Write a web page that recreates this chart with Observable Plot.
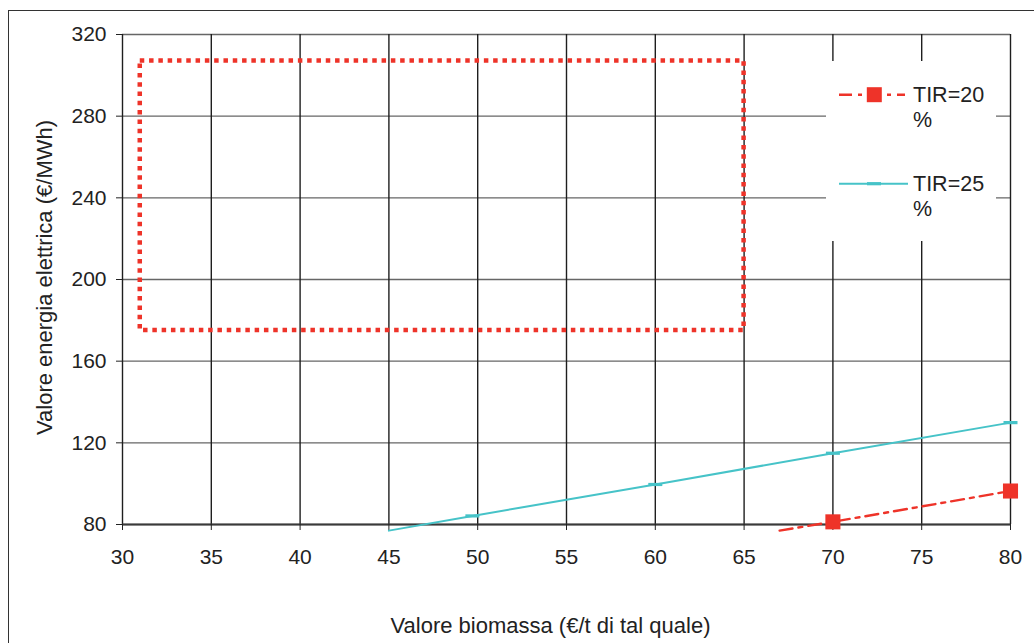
<!DOCTYPE html>
<html>
<head>
<meta charset="utf-8">
<script src="https://cdn.jsdelivr.net/npm/d3@7"></script>
<script src="https://cdn.jsdelivr.net/npm/@observablehq/plot@0.6"></script>
<style>
  body { margin: 0; background: #fff; font-family: "Liberation Sans", Arial, sans-serif; }
  #wrap { position: relative; width: 1034px; height: 643px; overflow: hidden; background: #fff; }
  #frame { position: absolute; left: 8px; top: 10px; width: 1100px; height: 700px;
           border-left: 1.5px solid #333; border-top: 1.5px solid #333; pointer-events: none; }
  #legend { position: absolute; left: 826px; top: 61px; }
  #chart { position: absolute; left: 0; top: 0; }
</style>
</head>
<body>
<div id="wrap">
  <div id="chart"></div>
  <div id="legend"></div>
  <div id="frame"></div>
</div>
<script>
// ---- data ----
const xTicks = [30, 35, 40, 45, 50, 55, 60, 65, 70, 75, 80];
const yTicks = [80, 120, 160, 200, 240, 280, 320];
const tir20X = [67, 70, 80];
const tir20Y = [77, 81.3, 96.4];
const tir25X = [45, 49.7, 60, 70, 80];
const tir25Y = [77, 84.2, 99.6, 114.9, 129.9];
const boxX = [31, 65];
const boxY = [175, 307];
const seriesNames = ["TIR=20", "TIR=25"];
const seriesSuffix = "%";
const xLabel = "Valore biomassa (€/t di tal quale)";
const yLabel = "Valore energia elettrica (€/MWh)";

// ---- styles ----
const RED = "#ee3329";
const CYAN = "#46c3c8";
const FONT = "Liberation Sans, Arial, sans-serif";

const pts20 = tir20X.map((x, i) => ({x, y: tir20Y[i]}));
const pts25 = tir25X.map((x, i) => ({x, y: tir25Y[i]}));
const box = [{x1: boxX[0], x2: boxX[1], y1: boxY[0], y2: boxY[1]}];

const dashSymbol = {
  draw(ctx) {
    ctx.moveTo(-7, -1.6); ctx.lineTo(7, -1.6); ctx.lineTo(7, 1.6); ctx.lineTo(-7, 1.6); ctx.closePath();
  }
};

const chart = Plot.plot({
  width: 1034,
  height: 643,
  marginLeft: 122,
  marginRight: 24,
  marginTop: 34,
  marginBottom: 119,
  style: {fontFamily: FONT, background: "transparent", color: "#222", overflow: "visible"},
  x: {domain: [30, 80]},
  y: {domain: [80, 320]},
  marks: [
    Plot.ruleY(yTicks, {stroke: "#666", strokeWidth: 1.4}),
    Plot.ruleX(xTicks, {stroke: "#1e1e1e", strokeWidth: 1.4}),
    Plot.ruleY([80], {stroke: "#3a3a3a", strokeWidth: 2}),
    Plot.axisX({ticks: xTicks, tickSize: 6, tickPadding: 19, fontSize: 21, label: null, stroke: "#222"}),
    Plot.axisY({ticks: yTicks, tickSize: 6, tickPadding: 10, fontSize: 21, label: null, stroke: "#222"}),
    Plot.rect(box, {x1: "x1", x2: "x2", y1: "y1", y2: "y2", fill: "none", stroke: RED,
                    strokeWidth: 4.5, strokeDasharray: "4.5,4.8"}),
    Plot.line(pts25, {x: "x", y: "y", stroke: CYAN, strokeWidth: 2}),
    Plot.dot(pts25.filter(d => d.y >= 80), {x: "x", y: "y", symbol: dashSymbol, fill: CYAN, stroke: "none"}),
    Plot.line(pts20, {x: "x", y: "y", stroke: RED, strokeWidth: 2.4, strokeDasharray: "13,6,4,6"}),
    Plot.dot(pts20.filter(d => d.y >= 80), {x: "x", y: "y", symbol: "square", r: 8.5, fill: RED, stroke: "none"}),
    Plot.text([xLabel], {text: d => d, frameAnchor: "bottom", textAnchor: "middle", lineAnchor: "bottom",
                         dx: -16, dy: 108, fontSize: 22, fill: "#222"}),
    Plot.text([yLabel], {text: d => d, frameAnchor: "left", textAnchor: "middle", lineAnchor: "middle",
                         rotate: -90, dx: -78, dy: -2, fontSize: 22, fill: "#222"})
  ]
});
document.getElementById("chart").appendChild(chart);

// ---- legend ----
const lg = d3.select("#legend").append("svg")
  .attr("width", 170).attr("height", 180)
  .style("font-family", FONT).style("display", "block");
lg.append("rect").attr("width", 170).attr("height", 180).attr("fill", "#fff");
const items = [
  {name: seriesNames[0], color: RED, dash: "13,6,4,6", lw: 2.4, ly: 33.7, ty: 41},
  {name: seriesNames[1], color: CYAN, dash: null, lw: 2, ly: 122.7, ty: 130}
];
items.forEach((it, i) => {
  const g = lg.append("g");
  g.append("line").attr("x1", 13).attr("x2", i === 0 ? 79 : 82).attr("y1", it.ly).attr("y2", it.ly)
    .attr("stroke", it.color).attr("stroke-width", it.lw)
    .attr("stroke-dasharray", it.dash);
  if (i === 0) {
    g.append("rect").attr("x", 48.3 - 7.5).attr("y", it.ly - 7.5).attr("width", 15).attr("height", 15).attr("fill", it.color);
  } else {
    g.append("rect").attr("x", 41).attr("y", it.ly - 1.6).attr("width", 14).attr("height", 3.2).attr("fill", it.color);
  }
  const t = g.append("text").attr("x", 87).attr("y", it.ty).attr("font-size", 21.5).attr("fill", "#222");
  t.append("tspan").attr("x", 87).text(it.name);
  t.append("tspan").attr("x", 87).attr("dy", 24.5).text(seriesSuffix);
});
</script>
</body>
</html>
